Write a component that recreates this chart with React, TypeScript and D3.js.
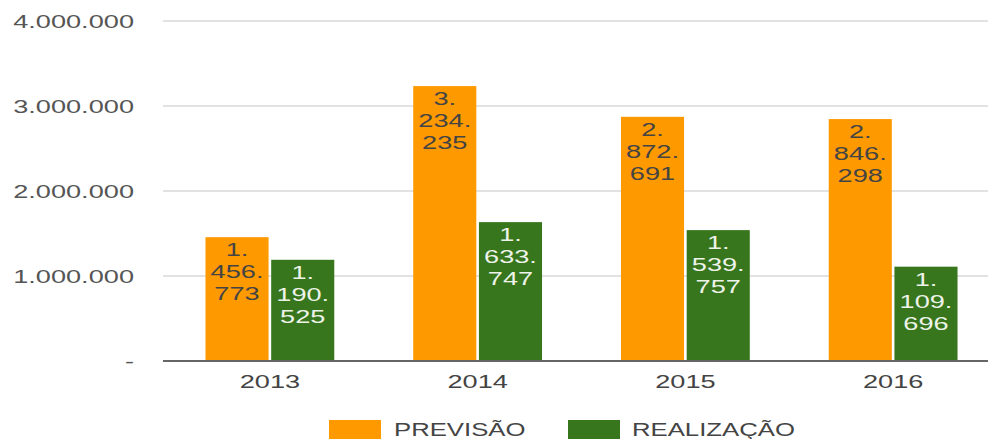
import * as d3 from 'd3';

const years = ['2013', '2014', '2015', '2016'];
const seriesNames = ['PREVISÃO', 'REALIZAÇÃO'];
const previsao = [1456773, 3234235, 2872691, 2846298];
const realizacao = [1190525, 1633747, 1539757, 1109696];
const yTicks = [0, 1000000, 2000000, 3000000, 4000000];

const colors = ['#ff9900', '#38761d'];
const labelColors = ['#444444', '#eef3ea'];

const width = 988;
const height = 439;
const stretch = 1.43;
const font = '"Liberation Sans", Arial, sans-serif';

const fmt = (v: number) => (v === 0 ? '-' : d3.format(',')(v).replace(/,/g, '.'));
// "1.456.773" -> ["1.", "456.", "773"]
const splitLabel = (v: number) => fmt(v).split('.').map((s, i, a) => (i < a.length - 1 ? s + '.' : s));

export default function App() {
  const values = [previsao, realizacao];

  const x = d3.scaleBand<string>().domain(years).range([166, 997]).paddingInner(0.38).paddingOuter(0.19);
  const xs = d3.scaleBand<string>().domain(seriesNames).range([0, x.bandwidth()]).paddingInner(0.04);
  const y = d3.scaleLinear().domain([0, 4000000]).range([361, 21]);

  const txt = (tx: number, ty: number, s: string, anchor: string, fill: string, size = 19, key?: any) => (
    <text
      key={key}
      transform={`translate(${tx},${ty}) scale(${stretch},1)`}
      textAnchor={anchor}
      fill={fill}
      fontSize={size}
      fontFamily={font}
    >
      {s}
    </text>
  );

  const legend = [
    { x: 329, tx: 394 },
    { x: 568, tx: 632 },
  ];

  return (
    <svg width={width} height={height} style={{ position: 'absolute', left: 0, top: 0, background: '#fff' }}>
      {/* gridlines */}
      {yTicks.slice(1).map((t) => (
        <line key={t} x1={163} x2={width} y1={y(t)} y2={y(t)} stroke="#d9d9d9" strokeWidth={1.5} />
      ))}
      {/* y tick labels */}
      {yTicks.map((t) => txt(134, y(t) + 7, fmt(t), 'end', '#555555', 19, 'yt' + t))}

      {/* bars */}
      {years.map((yr, i) => (
        <g key={yr} transform={`translate(${x(yr)},0)`}>
          {seriesNames.map((s, j) => {
            const v = values[j][i];
            const bx = xs(s)!;
            const top = y(v);
            return (
              <g key={s}>
                <rect x={bx} y={top} width={xs.bandwidth()} height={y(0) - top} fill={colors[j]} />
                {splitLabel(v).map((line, k) =>
                  txt(bx + xs.bandwidth() / 2, top + 19 + k * 22, line, 'middle', labelColors[j], 19, k)
                )}
              </g>
            );
          })}
        </g>
      ))}

      {/* baseline */}
      <line x1={163} x2={width} y1={y(0)} y2={y(0)} stroke="#666666" strokeWidth={2} />

      {/* x labels */}
      {years.map((yr) => txt(x(yr)! + x.bandwidth() / 2, 388, yr, 'middle', '#444444', 19, 'x' + yr))}

      {/* legend */}
      {seriesNames.map((s, j) => (
        <g key={s}>
          <rect x={legend[j].x} y={420} width={52} height={19} fill={colors[j]} />
          {txt(legend[j].tx, 436, s, 'start', '#444444', 18)}
        </g>
      ))}
    </svg>
  );
}
